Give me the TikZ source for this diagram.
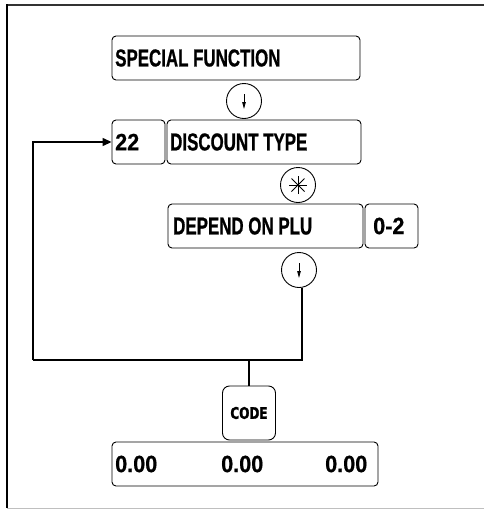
\documentclass[tikz,border=0pt]{standalone}
\usepackage{fontspec}
\setmainfont{Liberation Sans}
\newfontfamily\lblfont[FakeStretch=0.69,FakeBold=0.7]{Liberation Sans Bold}
\newfontfamily\numfont[FakeStretch=0.92,FakeBold=0.6]{Liberation Sans Bold}
\newfontfamily\codefont[FakeStretch=0.75,FakeBold=1.4]{DejaVu Sans Bold}
\usetikzlibrary{arrows.meta}
\begin{document}
\begin{tikzpicture}[x=1pt,y=-1pt,
  box/.style={draw, line width=0.9pt, rounded corners=4pt, minimum height=44pt, inner sep=0pt},
  keyc/.style={draw, circle, line width=0.9pt, minimum size=35pt, inner sep=0pt},
  lbl/.style={anchor=west, inner sep=0pt, font=\lblfont\fontsize{24.5}{26}\selectfont},
  num/.style={anchor=west, inner sep=0pt, font=\numfont\fontsize{23.5}{26}\selectfont},
  conn/.style={line width=1.3pt},
  kar/.style={line width=0.9pt, -{Triangle[length=7pt,width=3.5pt]}}
]
\useasboundingbox (0,0) rectangle (484,509);
\fill[white] (0,0) rectangle (484,509);
% frame
\draw[line width=2pt, black!80] (6,5) -- (484,5);
\draw[line width=2pt, black] (7,4) -- (7,508);
\draw[line width=1pt, black!25] (7,508) -- (484,508);

% boxes
\node[box, minimum width=248pt] (sf) at (236,58) {};
\node[lbl] (sft) at (115,58) {SPECIAL FUNCTION};

\node[keyc] (c1) at (244,101) {};
\draw[kar] ([yshift=7pt]c1.center) -- ([yshift=-8pt]c1.center);

\node[box, minimum width=53pt] (n22) at (138.5,142) {};
\node[num] (n22t) at (115,142) {22};
\node[box, minimum width=194pt] (dt) at (264,142) {};
\node[lbl] (dtt) at (170,142) {DISCOUNT TYPE};

\node[keyc] (c2) at (298,185) {};
\draw[line width=0.8pt] ([shift={(-9pt,0)}]c2.center) -- ([shift={(9pt,0)}]c2.center);
\draw[line width=0.8pt] ([shift={(0,-9pt)}]c2.center) -- ([shift={(0,9pt)}]c2.center);
\draw[line width=0.8pt] ([shift={(-6.5pt,-6.5pt)}]c2.center) -- ([shift={(6.5pt,6.5pt)}]c2.center);
\draw[line width=0.8pt] ([shift={(-6.5pt,6.5pt)}]c2.center) -- ([shift={(6.5pt,-6.5pt)}]c2.center);

\node[box, minimum width=195pt] (dp) at (265.5,226) {};
\node[lbl] (dpt) at (173,226) {DEPEND ON PLU};
\node[box, minimum width=53pt] (r02) at (391.5,226) {};
\node[num] (r02t) at (373,226) {0-2};

\node[keyc] (c3) at (299,270) {};
\draw[kar] ([yshift=7pt]c3.center) -- ([yshift=-8pt]c3.center);

\node[box, minimum width=53pt, minimum height=54pt, rounded corners=7pt] (code) at (249,413) {};
\node[inner sep=0pt, font=\codefont\fontsize{16}{17}\selectfont] (codet) at (249,413) {CODE};

\node[box, minimum width=266pt] (disp) at (245,464) {};
\node[num] (d1) at (115,464) {0.00};
\node[num] (d2) at (221,464) {0.00};
\node[num] (d3) at (325,464) {0.00};

% connectors
\coordinate (cr) at (302,360);
\coordinate (cl) at (33,360);
\draw[conn] (c3.south -| cr) -- (cr) -- (cl);
\draw[conn, -{Triangle[length=9pt,width=8pt]}] (cl) |- (n22.west);
\draw[conn] (code.north) -- (code.north |- cr);
\end{tikzpicture}
\end{document}
